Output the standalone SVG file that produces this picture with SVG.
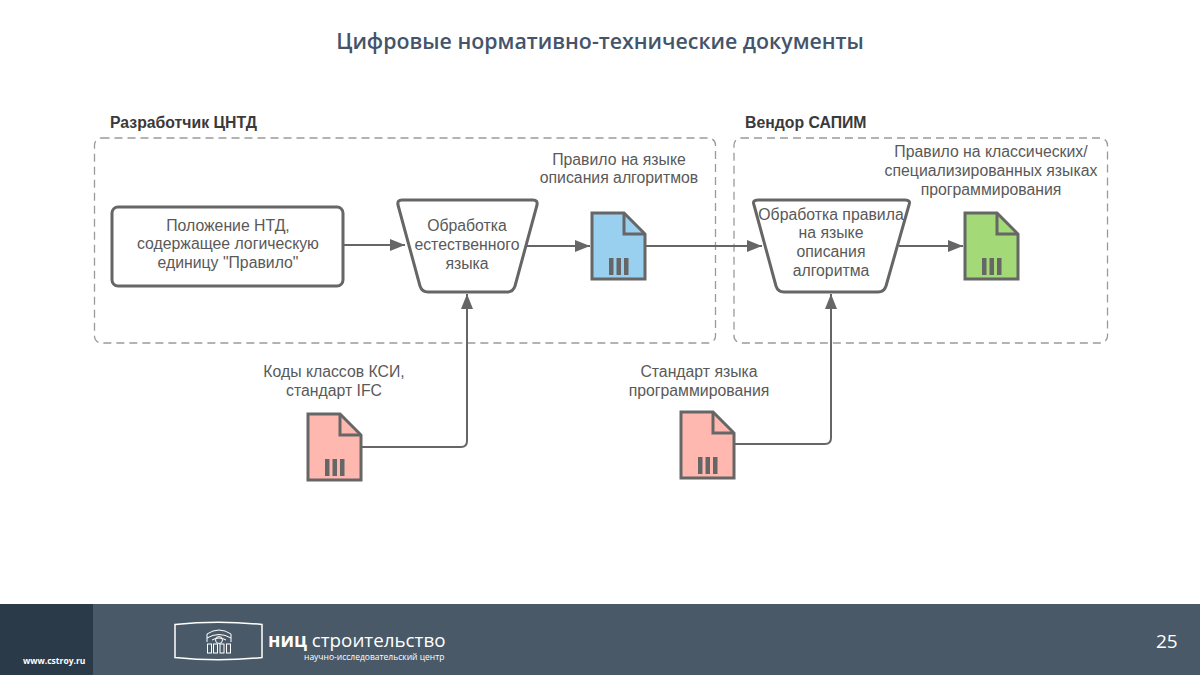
<svg xmlns="http://www.w3.org/2000/svg" width="1200" height="675" viewBox="0 0 1200 675">
<style>
text{font-family:"Liberation Sans",Arial,sans-serif;font-size:15.800px;fill:#595959;text-anchor:middle}
.h{font-weight:bold;fill:#3a3a3a;text-anchor:start}
.title{font-family:"Open Sans","Noto Sans",sans-serif;font-size:21.350px;font-weight:600;fill:#44546a}
.box{fill:none;stroke:#9a9a9a;stroke-width:1.3;stroke-dasharray:8 5}
.n{fill:#fff;stroke:#666;stroke-width:3;stroke-linejoin:round}
.doc{stroke:#666;stroke-width:3;stroke-linejoin:miter}
.fold{fill:none;stroke:#666;stroke-width:3}
.bar{fill:#666;stroke:none}
.c{fill:none;stroke:#666;stroke-width:2}
.f{fill:#fff;font-family:"Open Sans","Noto Sans",sans-serif;text-anchor:start}
</style>
<defs>
<marker id="a" markerUnits="userSpaceOnUse" markerWidth="16" markerHeight="14" refX="15" refY="6" orient="auto"><path d="M0 0L15 6L0 12Z" fill="#666"/></marker>
<g id="docshape">
<path class="fold" d="M33 1V22H54"/>
<rect class="bar" x="18" y="46" width="4.500" height="17"/><rect class="bar" x="25.500" y="46" width="4.500" height="17"/><rect class="bar" x="33" y="46" width="4.500" height="17"/>
</g>
</defs>
<rect width="1200" height="675" fill="#fff"/>
<text class="title" x="600" y="49">Цифровые нормативно-технические документы</text>

<g id="group-dev">
<rect class="box" x="94.500" y="138" width="621" height="205" rx="7"/>
<text class="h" x="110" y="128">Разработчик ЦНТД</text>
</g>
<g id="group-vendor">
<rect class="box" x="734" y="138" width="373.500" height="205" rx="7"/>
<text class="h" x="745" y="128">Вендор САПИМ</text>
</g>

<g id="connectors">
<path class="c" marker-end="url(#a)" d="M344 245H405"/>
<path class="c" marker-end="url(#a)" d="M527 246H590"/>
<path class="c" marker-end="url(#a)" d="M646 246H762"/>
<path class="c" marker-end="url(#a)" d="M899 246H963"/>
<path class="c" marker-end="url(#a)" d="M361 447H461Q467 447 467 441V294"/>
<path class="c" marker-end="url(#a)" d="M735 444H825Q831 444 831 438V294"/>
</g>

<g id="node-polozhenie">
<rect class="n" x="112" y="207" width="231" height="79" rx="6"/>
<text x="228" y="231">Положение НТД,</text>
<text x="228" y="249">содержащее логическую</text>
<text x="228" y="268">единицу "Правило"</text>
</g>
<g id="node-obrabotka1">
<path class="n" d="M402 200H533Q538 200 537 205L515 286Q513 292 507 292H428Q422 292 420 286L398 205Q397 200 402 200Z"/>
<text x="467" y="231">Обработка</text>
<text x="467" y="250">естественного</text>
<text x="467" y="269">языка</text>
</g>
<g id="node-doc-blue">
<text x="619" y="165">Правило на языке</text>
<text x="619" y="183">описания алгоритмов</text>
<path class="doc" fill="#99cfef" d="M592 213H624L645 234V279H592Z"/>
<use href="#docshape" x="591" y="212"/>
</g>
<g id="node-obrabotka2">
<path class="n" d="M758 200H905Q911 200 909 205L886 286Q884 292 878 292H784Q778 292 776 286L754 205Q752 200 758 200Z"/>
<text x="831" y="220">Обработка правила</text>
<text x="831" y="238">на языке</text>
<text x="831" y="257">описания</text>
<text x="831" y="276">алгоритма</text>
</g>
<g id="node-doc-green">
<text x="991" y="157">Правило на классических/</text>
<text x="991" y="176">специализированных языках</text>
<text x="991" y="195">программирования</text>
<path class="doc" fill="#a3d977" d="M965 213H997L1018 234V279H965Z"/>
<use href="#docshape" x="964" y="212"/>
</g>
<g id="node-doc-ksi">
<text x="334" y="377">Коды классов КСИ,</text>
<text x="334" y="396">стандарт IFC</text>
<path class="doc" fill="#ffb8b0" d="M308 414H340L361 435V480H308Z"/>
<use href="#docshape" x="307" y="413"/>
</g>
<g id="node-doc-std">
<text x="699" y="377">Стандарт языка</text>
<text x="699" y="396">программирования</text>
<path class="doc" fill="#ffb8b0" d="M681 412H713L734 433V478H681Z"/>
<use href="#docshape" x="680" y="411"/>
</g>

<g id="footer">
<rect y="604" width="1200" height="71" fill="#4a5968"/>
<rect y="604" width="93" height="71" fill="#2b3a48"/>
<text class="f" x="23" y="664" style="font-size:8.500px;font-weight:700">www.cstroy.ru</text>
<path d="M175 624.500Q218 620 262 624.500V657.500Q218 662 175 657.500Z" fill="none" stroke="#fff" stroke-width="1.500"/>
<g fill="none" stroke="#fff" stroke-width="1">
<path d="M207 634Q219 626 231 634V638Q219 631 207 638Z"/>
<path d="M207 638V642M231 638V642M212 640Q219 636 226 640"/>
<circle cx="219" cy="640" r="3.500"/>
<rect x="207.500" y="644" width="4" height="9"/><rect x="213.500" y="644" width="4" height="9"/><rect x="220" y="644" width="4" height="9"/><rect x="226.500" y="644" width="4" height="9"/>
</g>
<text class="f" x="268" y="647" style="font-size:18.800px;font-weight:700">ниц <tspan style="font-weight:400">строительство</tspan></text>
<text class="f" x="304" y="660" style="font-size:8.500px">научно-исследовательский центр</text>
<text class="f" x="1156" y="648" style="font-size:19px">25</text>
</g>
</svg>
